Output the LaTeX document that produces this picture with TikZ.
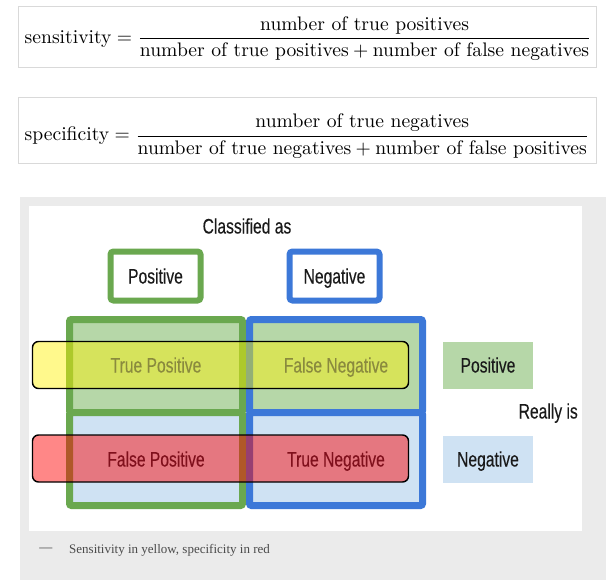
\documentclass[tikz,border=0pt]{standalone}
\usepackage{amsmath}
\usepackage{graphicx}
\usepackage{fontspec}
\newfontfamily\diagfont[FakeStretch=0.745,FakeBold=0.2]{Liberation Sans}
\newfontfamily\capfont{Liberation Serif}
\definecolor{grn}{HTML}{6AA84F}
\definecolor{blu}{HTML}{3C78D8}
\definecolor{grnsoft}{HTML}{B6D7A8}
\definecolor{blusoft}{HTML}{CFE2F3}
\definecolor{framegray}{HTML}{D9D9D9}
\definecolor{pagegray}{HTML}{EBEBEB}
\definecolor{ink}{HTML}{1A1A1A}
\definecolor{olivetxt}{HTML}{8A8A3E}
\definecolor{redtxt}{HTML}{80101C}
\definecolor{captxt}{HTML}{4A4A4A}
\usetikzlibrary{positioning}
\tikzset{
  lab/.style={font=\diagfont\fontsize{21}{24}\selectfont,text=ink,inner sep=0pt,text height=15pt,text depth=0pt},
  head/.style={lab,draw,line width=6pt,rounded corners=3pt,fill=white,minimum width=90,minimum height=49},
  cell/.style={draw,line width=7pt,rounded corners=2pt,minimum width=173,minimum height=93,inner sep=0pt},
  band/.style={draw=black,line width=1.4pt,rounded corners=6pt,minimum width=376,minimum height=47},
  key/.style={lab,minimum width=90,minimum height=47},
  fbox/.style={draw=framegray,line width=1pt,minimum width=578},
  fml/.style={inner sep=0pt,anchor=west},
  capline/.style={font=\capfont\fontsize{13}{15}\selectfont,text=captxt,inner sep=0pt},
}
\newcommand\bigfml[1]{\scalebox{1.96}{$\displaystyle #1$}}
\begin{document}
\begin{tikzpicture}[x=1pt,y=-1pt]
\useasboundingbox (0,0) rectangle (613,588);
% formulas
\node[fbox,minimum height=61] (sbox) at (307,37.5) {};
\node[fml] (sens) at ([xshift=7,yshift=-1]sbox.west)
  {\bigfml{\text{sensitivity}=\frac{\text{number of true positives}}{\text{number of true positives}+\text{number of false negatives}}}};
\node[fbox,minimum height=66] (qbox) at (307,131) {};
\node[fml] (spec) at ([xshift=7,yshift=-5]qbox.west)
  {\bigfml{\text{specificity}=\frac{\text{number of true negatives}}{\text{number of true negatives}+\text{number of false positives}}}};
% panel
\fill[pagegray] (20,197) rectangle (606,580);
\fill[white] (29,206) rectangle (582,531);
% classified as
\node[lab] (cls) at (247,226) {Classified as};
\node[head,draw=grn] (hpos) at (155.5,276) {Positive};
\node[head,draw=blu] (hneg) at (334.5,276) {Negative};
% grid
\node[cell,draw=grn,fill=grnsoft] (tp) at (156,366) {};
\node[cell,draw=grn,fill=blusoft] (fp) at (156,459) {};
\node[cell,draw=blu,fill=grnsoft] (fn) at (336,366) {};
\node[cell,draw=blu,fill=blusoft] (tn) at (336,459) {};
% overlays
\node[band,fill=yellow,fill opacity=0.45] (sensband) at (220.5,365) {};
\node[band,fill=red,fill opacity=0.47] (specband) at (220.5,458.5) {};
\node[lab,text=olivetxt] (tptxt) at (156,365) {True Positive};
\node[lab,text=olivetxt] (fntxt) at (336,365) {False Negative};
\node[lab,text=redtxt] (fptxt) at (156,459) {False Positive};
\node[lab,text=redtxt] (tntxt) at (336,459) {True Negative};
% really is
\node[key,fill=grnsoft] (kpos) at (488,365) {Positive};
\node[key,fill=blusoft] (kneg) at (488,459) {Negative};
\node[lab,anchor=east] (really) at (578,411) {Really is};
% caption
\node[capline,text=captxt!80] (dash) at (46,550) {\textbf{—}};
\node[capline,anchor=west] (captxt) at (69,550) {Sensitivity in yellow, specificity in red};
\end{tikzpicture}
\end{document}
